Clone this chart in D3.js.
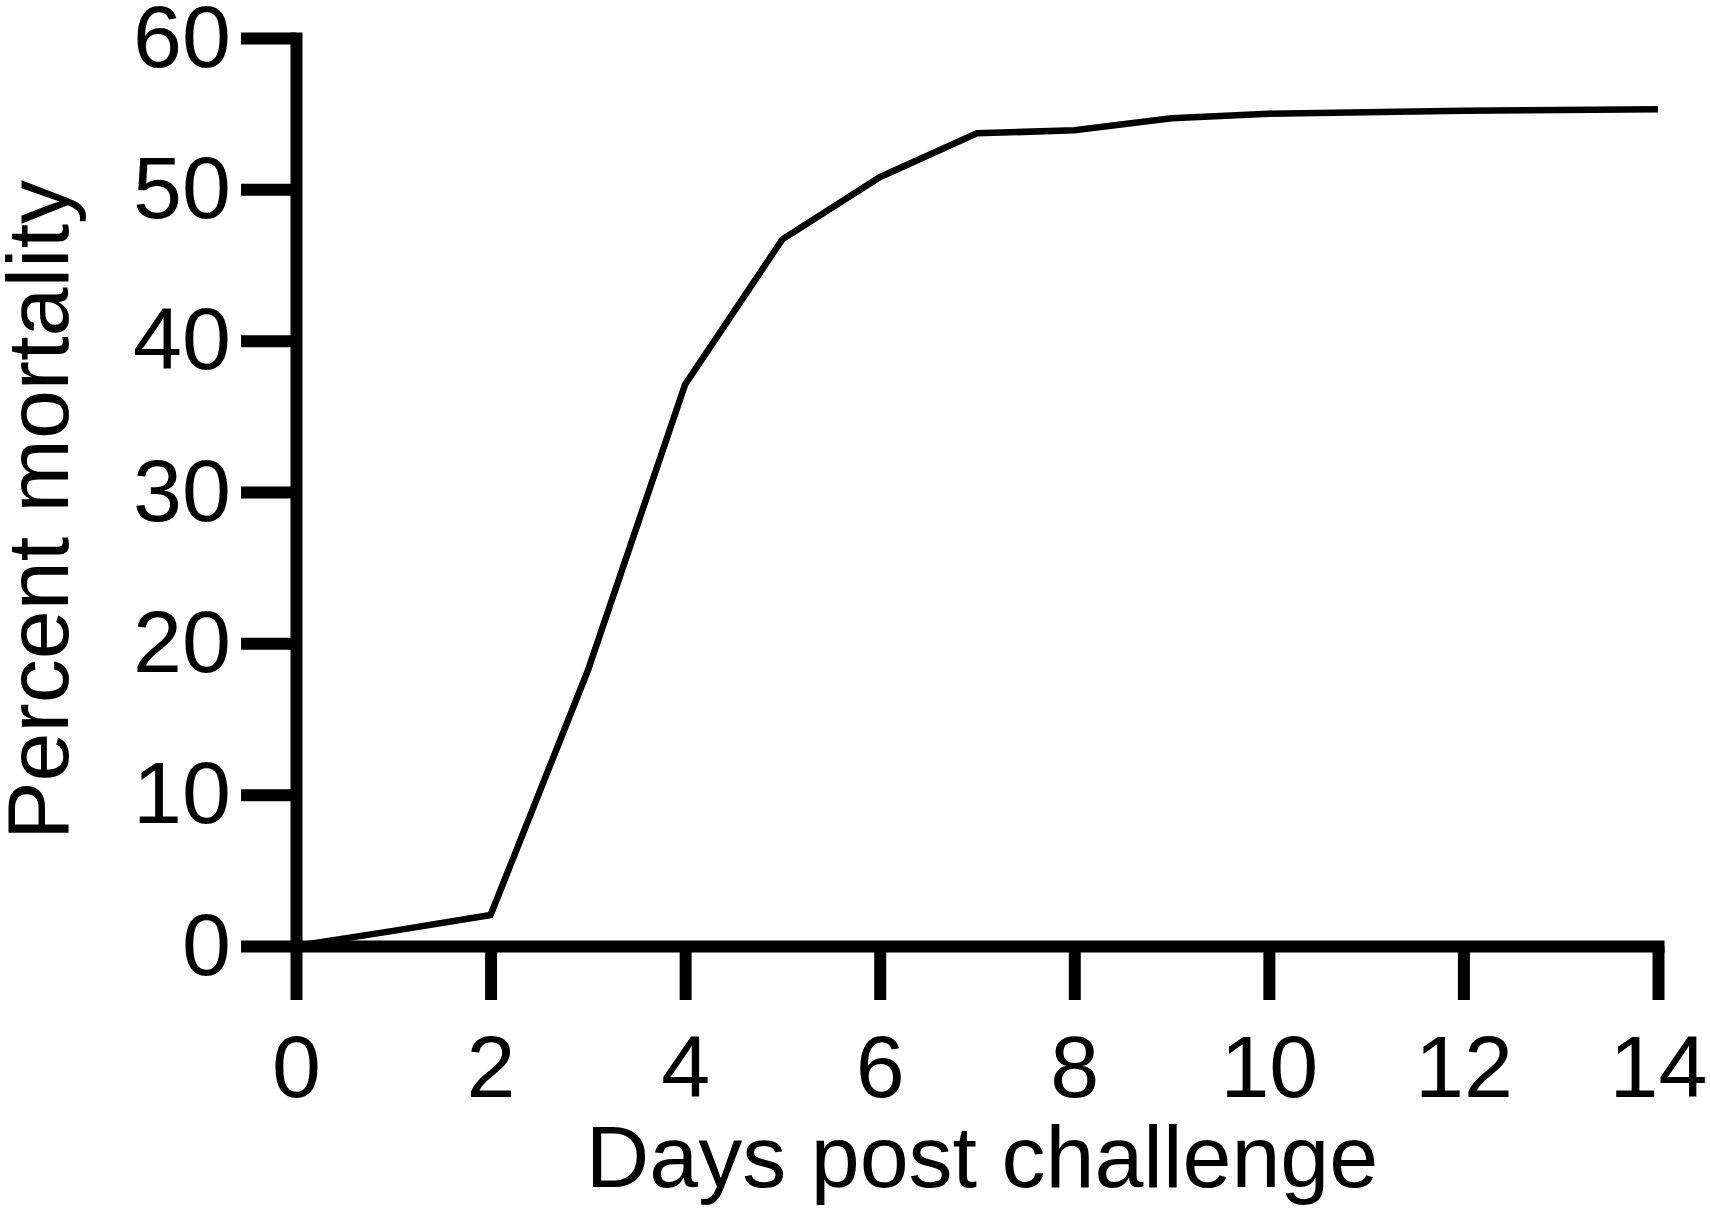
<!DOCTYPE html>
<html>
<head>
<meta charset="utf-8">
<script src="https://cdn.jsdelivr.net/npm/d3@7"></script>
<style>
  html, body { margin: 0; padding: 0; background: #fff; }
  svg { display: block; }
  text { font-family: "Liberation Sans", Arial, Helvetica, sans-serif; fill: #000; }
</style>
</head>
<body>
<svg id="chart" width="1710" height="1211"></svg>
<script>
const days = [0, 1, 2, 3, 4, 5, 6, 7, 8, 9, 10, 11, 12, 13, 14];
const mortality = [0, 1.0, 2.05, 18.2, 37.1, 46.7, 50.8, 53.7, 53.9, 54.7, 55.0, 55.1, 55.2, 55.25, 55.3];
const xTicks = [0, 2, 4, 6, 8, 10, 12, 14];
const yTicks = [0, 10, 20, 30, 40, 50, 60];
const xTitle = "Days post challenge";
const yTitle = "Percent mortality";

const svg = d3.select("#chart");
const x = d3.scaleLinear().domain([0, 14]).range([296, 1658]);
const y = d3.scaleLinear().domain([0, 60]).range([946, 38]);

const points = days.map((d, i) => [d, mortality[i]]);
const line = d3.line().x(d => x(d[0])).y(d => y(d[1]));

svg.append("path")
  .datum(points)
  .attr("d", line)
  .attr("fill", "none")
  .attr("stroke", "#000")
  .attr("stroke-width", 6.5)
  .attr("stroke-linejoin", "miter");

const xAxis = d3.axisBottom(x).tickValues(xTicks).tickFormat(d3.format("d"))
  .tickSize(54).tickSizeOuter(0).tickPadding(35);
const gx = svg.append("g").attr("transform", `translate(0,${y(0)})`).call(xAxis);

const yAxis = d3.axisLeft(y).tickValues(yTicks).tickFormat(d3.format("d"))
  .tickSize(55).tickSizeOuter(0).tickPadding(10);
const gy = svg.append("g").attr("transform", `translate(${x(0)},0)`).call(yAxis);

[gx, gy].forEach(g => {
  g.select(".domain").attr("stroke", "#000").attr("stroke-width", 12).attr("stroke-linecap", "square");
  g.selectAll(".tick line").attr("stroke", "#000").attr("stroke-width", 12);
  g.selectAll(".tick text").attr("font-size", 88).attr("fill", "#000")
    .style("font-family", '"Liberation Sans", Arial, Helvetica, sans-serif');
});

svg.append("text")
  .attr("x", 982).attr("y", 1187)
  .attr("text-anchor", "middle")
  .attr("font-size", 88)
  .text(xTitle);

svg.append("text")
  .attr("transform", `translate(68,510) rotate(-90)`)
  .attr("text-anchor", "middle")
  .attr("font-size", 88)
  .text(yTitle);
</script>
</body>
</html>
